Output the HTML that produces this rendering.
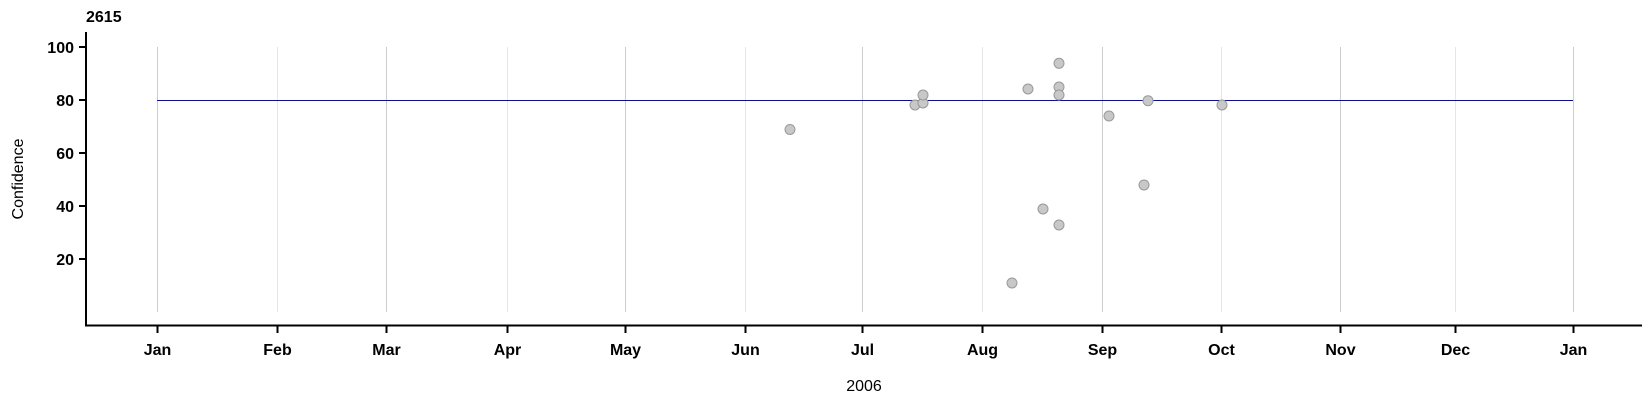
<!DOCTYPE html>
<html><head><style>
body{margin:0;background:#fff;}
svg{display:block;font-family:"Liberation Sans",Arial,sans-serif;}
.t{font-weight:bold;font-size:16px;fill:#000;}
</style></head><body>
<svg width="1650" height="400" viewBox="0 0 1650 400">
<g stroke-width="1">
<line x1="157.5" y1="47" x2="157.5" y2="312" stroke="#cccccc"/>
<line x1="277.5" y1="47" x2="277.5" y2="312" stroke="#e6e6e6"/>
<line x1="386.5" y1="47" x2="386.5" y2="312" stroke="#cccccc"/>
<line x1="507.5" y1="47" x2="507.5" y2="312" stroke="#e6e6e6"/>
<line x1="625.5" y1="47" x2="625.5" y2="312" stroke="#cccccc"/>
<line x1="745.5" y1="47" x2="745.5" y2="312" stroke="#e6e6e6"/>
<line x1="862.5" y1="47" x2="862.5" y2="312" stroke="#cccccc"/>
<line x1="982.5" y1="47" x2="982.5" y2="312" stroke="#e6e6e6"/>
<line x1="1102.5" y1="47" x2="1102.5" y2="312" stroke="#cccccc"/>
<line x1="1221.5" y1="47" x2="1221.5" y2="312" stroke="#e6e6e6"/>
<line x1="1340.5" y1="47" x2="1340.5" y2="312" stroke="#cccccc"/>
<line x1="1455.5" y1="47" x2="1455.5" y2="312" stroke="#e6e6e6"/>
<line x1="1573.5" y1="47" x2="1573.5" y2="312" stroke="#cccccc"/>
</g>
<line x1="157" y1="100.5" x2="1573" y2="100.5" stroke="#0000ff" stroke-width="1"/>
<g fill="#c8c8c8" stroke="#999" stroke-width="1">
<circle cx="790" cy="129.5" r="5"/>
<circle cx="915" cy="105" r="5"/>
<circle cx="923" cy="103" r="5"/>
<circle cx="923" cy="95" r="5"/>
<circle cx="1012" cy="283" r="5"/>
<circle cx="1028" cy="89" r="5"/>
<circle cx="1043" cy="209" r="5"/>
<circle cx="1059" cy="63.3" r="5"/>
<circle cx="1059" cy="87" r="5"/>
<circle cx="1059" cy="95" r="5"/>
<circle cx="1059" cy="225" r="5"/>
<circle cx="1109" cy="116" r="5"/>
<circle cx="1144" cy="185" r="5"/>
<circle cx="1148" cy="100.7" r="5"/>
<circle cx="1222" cy="105" r="5"/>
</g>
<g stroke="#000" stroke-width="2">
<line x1="86" y1="32" x2="86" y2="326"/>
<line x1="85" y1="325.5" x2="1642" y2="325.5"/>
<line x1="79" y1="47" x2="86" y2="47"/>
<line x1="79" y1="100" x2="86" y2="100"/>
<line x1="79" y1="153" x2="86" y2="153"/>
<line x1="79" y1="206" x2="86" y2="206"/>
<line x1="79" y1="259" x2="86" y2="259"/>
</g>
<g stroke="#000" stroke-width="2">
<line x1="157.5" y1="326" x2="157.5" y2="333"/>
<line x1="277.5" y1="326" x2="277.5" y2="333"/>
<line x1="386.5" y1="326" x2="386.5" y2="333"/>
<line x1="507.5" y1="326" x2="507.5" y2="333"/>
<line x1="625.5" y1="326" x2="625.5" y2="333"/>
<line x1="745.5" y1="326" x2="745.5" y2="333"/>
<line x1="862.5" y1="326" x2="862.5" y2="333"/>
<line x1="982.5" y1="326" x2="982.5" y2="333"/>
<line x1="1102.5" y1="326" x2="1102.5" y2="333"/>
<line x1="1221.5" y1="326" x2="1221.5" y2="333"/>
<line x1="1340.5" y1="326" x2="1340.5" y2="333"/>
<line x1="1455.5" y1="326" x2="1455.5" y2="333"/>
<line x1="1573.5" y1="326" x2="1573.5" y2="333"/>
</g>
<text x="86" y="22" class="t">2615</text>
<g class="t" text-anchor="end">
<text x="74" y="53">100</text>
<text x="74" y="106">80</text>
<text x="74" y="159">60</text>
<text x="74" y="212">40</text>
<text x="74" y="265">20</text>
</g>
<g class="t" text-anchor="middle">
<text x="157.5" y="355">Jan</text>
<text x="277.5" y="355">Feb</text>
<text x="386.5" y="355">Mar</text>
<text x="507.5" y="355">Apr</text>
<text x="625.5" y="355">May</text>
<text x="745.5" y="355">Jun</text>
<text x="862.5" y="355">Jul</text>
<text x="982.5" y="355">Aug</text>
<text x="1102.5" y="355">Sep</text>
<text x="1221.5" y="355">Oct</text>
<text x="1340.5" y="355">Nov</text>
<text x="1455.5" y="355">Dec</text>
<text x="1573.5" y="355">Jan</text>
</g>
<text x="864" y="391" font-size="16" text-anchor="middle">2006</text>
<text transform="translate(23,179) rotate(-90)" font-size="16" text-anchor="middle">Confidence</text>
</svg>
</body></html>
